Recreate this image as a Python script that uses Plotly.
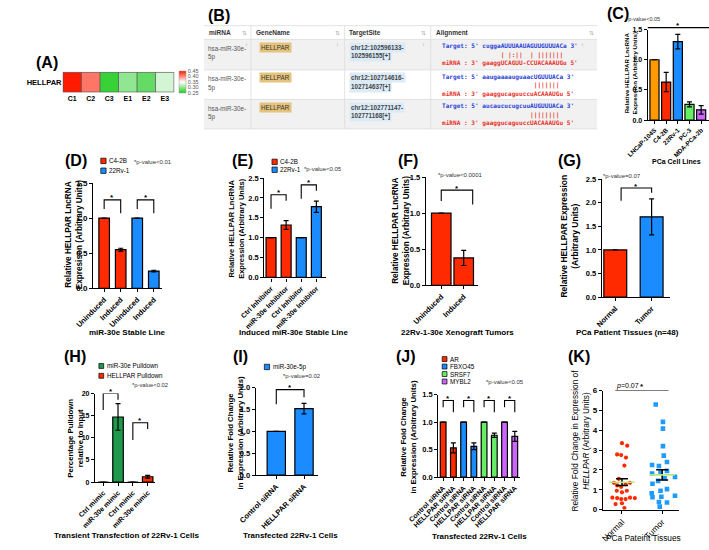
import plotly.graph_objects as go

W, H = 709, 550
SANS = "Arial, Liberation Sans, Helvetica, sans-serif"
MONO = "DejaVu Sans Mono, Liberation Mono, monospace"

RED = "#ff2a00"
BLUE = "#1a8cff"
ORANGE = "#ff9900"
LGREEN = "#66ee66"
PURPLE = "#cc66ff"
DGREEN = "#1f9a4c"
TAN = "#e5c37c"

# ---------------- data ----------------
# (A) heatmap
heat_samples = ["C1", "C2", "C3", "E1", "E2", "E3"]
heat_gene = ["HELLPAR"]
heat_values = [0.45, 0.41, 0.26, 0.30, 0.28, 0.33]
heat_ticks = [0.45, 0.40, 0.35, 0.30, 0.25]

# (B) target table
tbl_headers = ["miRNA", "GeneName", "TargetSite", "Alignment"]
tbl_mirna = ["hsa-miR-30e-5p", "hsa-miR-30e-5p", "hsa-miR-30e-5p"]
tbl_gene = ["HELLPAR", "HELLPAR", "HELLPAR"]
tbl_site = ["chr12:102596133-102596155[+]", "chr12:102714616-102714637[+]",
            "chr12:102771147-102771168[+]"]
tbl_target = ["cuggaAUUUAAUAGUUGUUUACa", "aaugaaaauguaacUGUUUACa", "aucaucucugcuuAUGUUUACa"]
tbl_pairs = ["     | |:||  | |||||||", "              |||||||", "             ||||||||"]
tbl_mirseq = ["gaaggUCAGUU-CCUACAAAUGu", "gaaggucaguuccuACAAAUGu", "gaaggucaguuccUACAAAUGu"]

# (C)
c_lines = ["LNCaP-104S", "C4-2B", "22Rv-1", "PC-3", "MDA-PCa-2b"]
c_expr = [1.0, 0.63, 1.30, 0.26, 0.17]
c_err = [0.0, 0.16, 0.12, 0.04, 0.07]

# (D)
d_labels = ["Uninduced", "Induced", "Uninduced", "Induced"]
d_c42b = [1.0, 0.55]
d_c42b_err = [0, 0.02]
d_22rv1 = [1.0, 0.245]
d_22rv1_err = [0, 0.012]

# (E)
e_labels = ["Ctrl Inhibitor", "miR-30e Inhibitor", "Ctrl Inhibitor", "miR-30e Inhibitor"]
e_c42b = [1.0, 1.32]
e_c42b_err = [0, 0.11]
e_22rv1 = [1.0, 1.78]
e_22rv1_err = [0, 0.14]

# (F)
f_labels = ["Uninduced", "Induced"]
f_expr = [1.0, 0.38]
f_err = [0, 0.105]

# (G)
g_labels = ["Normal", "Tumor"]
g_expr = [1.0, 1.70]
g_err = [0, 0.38]

# (H)
h_labels = ["Ctrl mimic", "miR-30e mimic", "Ctrl mimic", "miR-30e mimic"]
h_mir = [0.0, 14.7]
h_mir_err = [0, 3.0]
h_hellpar = [0.0, 1.2]
h_hellpar_err = [0, 0.3]

# (I)
i_labels = ["Control siRNA", "HELLPAR siRNA"]
i_expr = [1.0, 1.52]
i_err = [0, 0.12]

# (J)
j_genes = ["AR", "FBXO45", "SRSF7", "MYBL2"]
j_colors = [RED, BLUE, LGREEN, PURPLE]
j_labels = ["Control siRNA", "HELLPAR siRNA"]
j_ctrl = [1.0, 1.0, 1.0, 1.0]
j_si = [0.53, 0.56, 0.76, 0.74]
j_si_err = [0.09, 0.06, 0.04, 0.09]

# (K)
k_groups = ["Normal", "Tumor"]
k_normal = [3.35, 3.22, 2.78, 2.75, 2.62, 2.22, 1.55, 1.35, 1.22, 1.15, 1.28, 1.35,
            0.95, 0.87, 0.95, 0.60, 0.58, 0.53, 0.53, 0.60, 0.58, 0.28, 0.32, 0.08]
k_normal_jit = [0, .13, -.12, -.02, .10, .06, -.08, -.20, -.12, -.02, .09, .20,
                -.13, 0, .12, -.24, -.12, -.02, .09, .20, .32, -.16, 0, .06]
k_tumor = [5.30, 4.42, 4.08, 3.20, 2.72, 2.40, 2.25, 2.20, 1.95, 1.87, 1.82, 1.65,
           1.58, 1.45, 1.30, 1.03, 0.95, 0.82, 0.70, 0.65, 0.62, 0.38, 0.36, 0.15]
k_tumor_jit = [-.16, .02, .02, .02, .04, .12, -.25, -.08, .12, -.04, -.25, .32,
               .06, -.10, -.24, .12, -.04, -.26, .32, -.02, -.24, -.08, .12, -.06]
k_mean = [1.38, 1.75]
k_sem = [0.17, 0.26]


def px(x):
    return x / W


def py(y):
    return 1 - y / H


fig = go.Figure()
ann = []
shp = []
panels = {}


def text(x, y, s, size=7, bold=False, color="black", xanchor="center", angle=0,
         family=SANS, bg=None):
    d = dict(x=px(x), y=py(y), xref="paper", yref="paper", text=s, showarrow=False,
             xanchor=xanchor, yanchor="middle", textangle=angle, borderpad=0,
             font=dict(family=family, size=size, color=color,
                       weight="bold" if bold else "normal"))
    if bg:
        d.update(bgcolor=bg, borderpad=1)
    ann.append(d)


def rect(x0, y0, x1, y1, fill, line=None, lw=0.8):
    shp.append(dict(type="rect", xref="paper", yref="paper", x0=px(x0), x1=px(x1),
                    y0=py(y0), y1=py(y1), fillcolor=fill,
                    line=dict(color=line or fill, width=lw if line else 0), layer="below"))


def hline(x0, x1, y, color="#dcdcdc", w=0.8):
    shp.append(dict(type="line", xref="paper", yref="paper", x0=px(x0), x1=px(x1),
                    y0=py(y), y1=py(y), line=dict(color=color, width=w)))


def vline(x, y0, y1, color="#dcdcdc", w=0.8):
    shp.append(dict(type="line", xref="paper", yref="paper", x0=px(x), x1=px(x),
                    y0=py(y0), y1=py(y1), line=dict(color=color, width=w)))


AX = dict(showline=True, linecolor="black", linewidth=1.3, ticks="outside", ticklen=3,
          tickwidth=1.2, tickcolor="black", showgrid=False, zeroline=False, fixedrange=True)


def bar_panel(k, ax_px, c0, sp, end_px, top_px, bot_px, ymax, dtick, cats, fmt,
              tfs=7.5, yfs=7.5, tbold=True):
    r0 = -(c0 - ax_px) / sp
    r1 = r0 + (end_px - ax_px) / sp
    fig.update_layout(**{
        f"xaxis{k}": dict(domain=[px(ax_px), min(1, px(end_px))], range=[r0, r1], anchor=f"y{k}",
                          tickmode="array", tickvals=list(range(len(cats))), ticktext=cats,
                          tickangle=-45,
                          tickfont=dict(family=SANS, size=tfs, color="black",
                                        weight="bold" if tbold else "normal"), **AX),
        f"yaxis{k}": dict(domain=[py(bot_px), py(top_px)], range=[0, ymax], anchor=f"x{k}",
                          tick0=0, dtick=dtick, tickformat=fmt,
                          tickfont=dict(family=SANS, size=yfs, weight="bold", color="black"),
                          **AX),
    })
    panels[k] = (top_px, bot_px, ymax)


def bars(k, xs, ys, errs, color, width):
    fig.add_trace(go.Bar(x=xs, y=ys, width=width,
                         marker=dict(color=color, line=dict(color="black", width=1.2)),
                         error_y=dict(type="data", array=errs, color="black",
                                      thickness=1.2, width=2.5),
                         xaxis=f"x{k}", yaxis=f"y{k}", showlegend=False, hoverinfo="skip"))


def ypix(k, v):
    top_px, bot_px, ymax = panels[k]
    return bot_px - v / ymax * (bot_px - top_px)


def bracket(k, i0, i1, top, leg0, leg1):
    shp.append(dict(type="path", xref=f"x{k}", yref=f"y{k}",
                    path=f"M {i0},{leg0} L {i0},{top} L {i1},{top} L {i1},{leg1}",
                    line=dict(color="black", width=1.1)))
    ann.append(dict(x=(i0 + i1) / 2, xref=f"x{k}", y=py(ypix(k, top) - 2), yref="paper",
                    text="*", showarrow=False, yanchor="middle", borderpad=0,
                    font=dict(family=SANS, size=8, color="black", weight="bold")))


def legend_box(x, y, color, label, size=5.5):
    rect(x, y - size / 2, x + size, y + size / 2, color, "black", 0.7)
    text(x + size + 2, y, label, size=6.3, xanchor="left")


# ---------------- (A) heatmap ----------------
fig.add_trace(go.Heatmap(
    z=[heat_values], x=heat_samples, y=heat_gene, zmin=0.25, zmax=0.45,
    colorscale=[[0, "#22cc22"], [0.5, "#ffffff"], [1, "#ff1a00"]],
    xaxis="x", yaxis="y", hoverinfo="skip",
    colorbar=dict(x=px(155), xanchor="left", y=py(79), yanchor="middle", len=22,
                  lenmode="pixels", thickness=7, thicknessmode="pixels",
                  tickvals=heat_ticks, ticktext=[f"{t:.2f}" for t in heat_ticks],
                  tickfont=dict(family=SANS, size=5.5, color="#555"), ticks="",
                  outlinewidth=0.5, outlinecolor="#999", xpad=0, ypad=0)))
fig.update_layout(
    xaxis=dict(domain=[px(33), px(150)], anchor="y", showgrid=False, zeroline=False,
               ticks="", tickfont=dict(family=SANS, size=7, weight="bold", color="black"),
               fixedrange=True),
    yaxis=dict(domain=[py(90), py(69)], anchor="x", showgrid=False, zeroline=False,
               ticks="", tickfont=dict(family=SANS, size=7.5, weight="bold", color="black"),
               fixedrange=True),
)
shp.append(dict(type="rect", xref="x", yref="y", x0=-0.5, x1=len(heat_samples) - 0.5,
                y0=-0.5, y1=0.5, line=dict(color="#555", width=0.8)))
for i in range(len(heat_samples) - 1):
    shp.append(dict(type="line", xref="x", yref="y", x0=i + 0.5, x1=i + 0.5, y0=-0.5, y1=0.5,
                    line=dict(color="#555", width=0.8)))
text(17, 59, "(A)", size=16, bold=True)

# ---------------- (B) table ----------------
text(197, 12, "(B)", size=16, bold=True)
col_x = [181, 230, 328, 418, 592]
row_y = [22, 36, 67, 97, 127]
for r in range(3):
    if r % 2 == 0:
        rect(col_x[0], row_y[r + 1], col_x[-1], row_y[r + 2], "#f1f1f1")
for y in row_y:
    hline(col_x[0], col_x[-1], y)
for x in col_x[1:-1]:
    vline(x, row_y[0], row_y[-1])
icon_x = [223, 321, 410, 586]
for c, h in enumerate(tbl_headers):
    text(col_x[c] + 4, 29, h, size=6.5, bold=True, color="#333", xanchor="left")
    text(icon_x[c], 29, "\u21c5", size=6, color="#aaa")
for r in range(3):
    top = row_y[r + 1]
    a, b = tbl_mirna[r].rsplit("-", 1)
    text(184, top + 9, a + "-", size=6.3, color="#555", xanchor="left")
    text(184, top + 18, b, size=6.3, color="#555", xanchor="left")
    text(238, top + 8, tbl_gene[r], size=6.3, color="#333", xanchor="left", bg=TAN)
    s1, s2 = tbl_site[r].split("-", 1)
    text(333, top + 8, s1 + "-", size=6.3, bold=True, color="#444", xanchor="left", bg="#dcebf8")
    text(333, top + 17, s2, size=6.3, bold=True, color="#444", xanchor="left", bg="#dcebf8")
    nb = "\u00a0"
    t_line = f"Target:{nb}5'{nb}{tbl_target[r]}{nb}3'"
    p_line = nb * 11 + tbl_pairs[r].replace(" ", nb)
    m_line = f"miRNA{nb}:{nb}3'{nb}{tbl_mirseq[r]}{nb}5'"
    text(429, top + 7, t_line, size=6.1, bold=True, color="#2b3fd6", xanchor="left", family=MONO)
    text(429, top + 15.5, p_line, size=6.1, bold=True, color="#e8312a", xanchor="left", family=MONO)
    text(429, top + 24, m_line, size=6.1, bold=True, color="#e8312a", xanchor="left", family=MONO)
    if r == 0:
        for x in [225, 321, 410, 577]:
            text(x, top + 6, "\u2191", size=6, color="#aaa")

# ---------------- (C) ----------------
bar_panel(2, 645, 652, 12.2, 709, 26, 118, 1.5, 0.5, c_lines, ".1f", tfs=6.3, yfs=7)
bars(2, list(range(len(c_lines))), c_expr, c_err,
     [ORANGE, RED, BLUE, LGREEN, PURPLE], 0.78)
text(614, 10, "(C)", size=16, bold=True)
text(621, 15, "*p-value<0.05", size=5.5, color="#333", xanchor="left")
hline(645, 709, 24, color="black", w=1.1)
text(677, 22, "*", size=8, bold=True)
text(627, 70, "Relative HELLPAR LncRNA<br>Expression (Arbitrary Units)", size=6.2, bold=True,
     angle=-90)
text(675, 160, "PCa Cell Lines", size=7, bold=True)

# ---------------- (D) ----------------
bar_panel(3, 65, 76.5, 17.3, 137, 182, 289, 1.5, 0.5, d_labels, ".1f", tfs=7.5, yfs=8)
bars(3, [0, 1], d_c42b, d_c42b_err, RED, 0.64)
bars(3, [2, 3], d_22rv1, d_22rv1_err, BLUE, 0.64)
bracket(3, 0, 1, 1.26, 1.13, 1.07)
bracket(3, 2, 3, 1.26, 1.13, 1.07)
text(47, 159, "(D)", size=16, bold=True)
legend_box(73, 159.5, RED, "C4-2B")
legend_box(73, 169.5, BLUE, "22Rv-1")
text(107, 161, "*p-value<0.01", size=6, color="#333", xanchor="left")
text(45, 235, "Relative HELLPAR LncRNA<br>Expresison (Arbitrary Units)", size=8.2, bold=True,
     angle=-90)
text(101, 334, "miR-30e Stable Line", size=8, bold=True)

# ---------------- (E) ----------------
bar_panel(4, 244, 251, 15.8, 308, 177, 278, 2.5, 0.5, e_labels, ".1f", tfs=7, yfs=7.5)
bars(4, [0, 1], e_c42b, e_c42b_err, RED, 0.66)
bars(4, [2, 3], e_22rv1, e_22rv1_err, BLUE, 0.66)
bracket(4, 0, 1, 2.08, 1.73, 1.93)
bracket(4, 2, 3, 2.33, 1.98, 2.18)
text(221, 159, "(E)", size=16, bold=True)
legend_box(252, 160.5, RED, "C4-2B")
legend_box(252, 168.5, BLUE, "22Rv-1")
text(284, 168, "*p-value<0.05", size=6, color="#333", xanchor="left")
text(215, 228, "Relative HELLPAR LncRNA<br>Expression (Arbitrary Units)", size=7.5, bold=True,
     angle=-90)
text(275, 334, "Induced miR-30e Stable Line", size=8, bold=True)

# ---------------- (F) ----------------
bar_panel(5, 413, 429, 23.5, 467, 176, 286, 1.5, 0.5, f_labels, ".1f", tfs=7.5, yfs=7.5)
bars(5, [0, 1], f_expr, f_err, RED, 0.87)
bracket(5, 0, 1.4, 1.32, 1.17, 1.12)
text(394, 159, "(F)", size=16, bold=True)
text(425, 174, "*p-value<0.0001", size=6, color="#333", xanchor="left")
text(387, 231, "Relative HELLPAR LncRNA<br>Expression (Arbitrary Units)", size=8.2, bold=True,
     angle=-90)
text(446, 334, "22Rv-1-30e Xenograft Tumors", size=8, bold=True)

# ---------------- (G) ----------------
bar_panel(6, 597, 611, 38, 668, 178, 298, 2.5, 0.5, g_labels, ".1f", tfs=7.5, yfs=7.5)
bars(6, [0, 1], g_expr, g_err, [RED, BLUE], 0.63)
bracket(6, 0.16, 1, 2.31, 2.04, 2.21)
text(563, 159, "(G)", size=16, bold=True)
text(597, 175, "*p-value=0.07", size=6, color="#333", xanchor="left")
text(563, 236, "Relative HELLPAR Expression<br>(Arbitrary Units)", size=8.5, bold=True,
     angle=-90)
text(624, 334, "PCa Patient Tissues (n=48)", size=8, bold=True)

# ---------------- (H) ----------------
bar_panel(7, 67, 75.5, 15.5, 130, 396, 486, 20, 5, h_labels, "d", tfs=7, yfs=7)
bars(7, [0, 1], h_mir, h_mir_err, DGREEN, 0.71)
bars(7, [2, 3], h_hellpar, h_hellpar_err, RED, 0.71)
bracket(7, 0, 1, 20, 16.3, 18.6)
bracket(7, 2, 3, 13.4, 9.5, 12)
text(46, 358, "(H)", size=16, bold=True)
legend_box(71, 368, DGREEN, "miR-30e Pulldown", size=5)
legend_box(71, 378, RED, "HELLPAR Pulldown", size=5)
text(105, 387, "*p-value<0.02", size=5.8, color="#333", xanchor="left")
text(47, 441, "Percentage Pulldown<br>relative to Input", size=7.8, bold=True, angle=-90)
text(100, 540, "Transient Transfection of 22Rv-1 Cells", size=8, bold=True)

# ---------------- (I) ----------------
bar_panel(8, 235, 256.5, 29, 300, 390, 479, 2.0, 0.5, i_labels, ".1f", tfs=7.5, yfs=7.5)
bars(8, [0, 1], i_expr, i_err, BLUE, 0.66)
bracket(8, 0, 1, 1.955, 1.62, 1.78)
text(219, 358, "(I)", size=16, bold=True)
legend_box(244, 369, BLUE, "miR-30e-5p")
text(262, 378, "*p-value=0.02", size=6, color="#333", xanchor="left")
text(214, 436, "Relative Fold Change<br>in Expression (Arbitrary Units)", size=7.8, bold=True,
     angle=-90)
text(271, 540, "Transfected 22Rv-1 Cells", size=8, bold=True)

# ---------------- (J) ----------------
bar_panel(9, 426, 431, 10.7, 511, 397, 481, 1.5, 0.5, j_labels * len(j_genes), ".1f",
          tfs=7, yfs=7.5)
for g, gene in enumerate(j_genes):
    bars(9, [2 * g, 2 * g + 1], [j_ctrl[g], j_si[g]], [0, j_si_err[g]], j_colors[g], 0.56)
    bracket(9, 2 * g, 2 * g + 1, 1.39, 1.27, 1.18)
    legend_box(430, 361 + 7.6 * g, j_colors[g], gene, size=5)
text(392, 358, "(J)", size=16, bold=True)
text(475, 384, "*p-value<0.05", size=6, color="#333", xanchor="left")
text(395, 440, "Relative Fold Change<br>in Expression (Arbitrary Units)", size=7.8, bold=True,
     angle=-90)
text(469, 541, "Transfected 22Rv-1 Cells", size=8, bold=True)

# ---------------- (K) ----------------
bar_panel(10, 598, 618, 42, 678, 393, 514, 6, 1, k_groups, "d", tfs=8.5, yfs=8, tbold=False)
fig.add_trace(go.Scatter(x=[0 + j for j in k_normal_jit], y=k_normal, mode="markers",
                         marker=dict(symbol="circle", size=4.2, color=RED),
                         xaxis="x10", yaxis="y10", showlegend=False, hoverinfo="skip"))
fig.add_trace(go.Scatter(x=[1 + j for j in k_tumor_jit], y=k_tumor, mode="markers",
                         marker=dict(symbol="square", size=4.6, color="#1e9bff"),
                         xaxis="x10", yaxis="y10", showlegend=False, hoverinfo="skip"))
fig.add_trace(go.Scatter(x=[0, 1], y=k_mean, mode="markers",
                         marker=dict(symbol="line-ew-open", size=18,
                                     line=dict(color="black", width=1.6)),
                         error_y=dict(type="data", array=k_sem, color="black", thickness=1.5,
                                      width=6),
                         xaxis="x10", yaxis="y10", showlegend=False, hoverinfo="skip"))
shp.append(dict(type="line", xref="x10", yref="y10", x0=-0.17, x1=1.16, y0=6, y1=6,
                line=dict(color="black", width=1.1)))
text(573, 358, "(K)", size=16, bold=True)
text(611, 388, "<i>p</i>=0.07", size=7, xanchor="left")
text(639, 389, "*", size=8, bold=True)
text(575, 444, "Relative Fold Change in Expression of<br><i>HELLPAR</i> (Arbitrary Units)",
     size=8.3, angle=-90)
text(641, 543, "PCa Pateint Tissues", size=8.3)

fig.update_layout(
    width=W, height=H, margin=dict(l=0, r=0, t=0, b=0),
    paper_bgcolor="white", plot_bgcolor="white", barmode="overlay",
    font=dict(family=SANS, color="black"),
    annotations=ann, shapes=shp, showlegend=False,
)

# the page's default 8px body margin would push the 709x550 figure past the window
fig.write_html("out.html", config={"displayModeBar": False},
               post_script="document.body.style.margin='0px';")
